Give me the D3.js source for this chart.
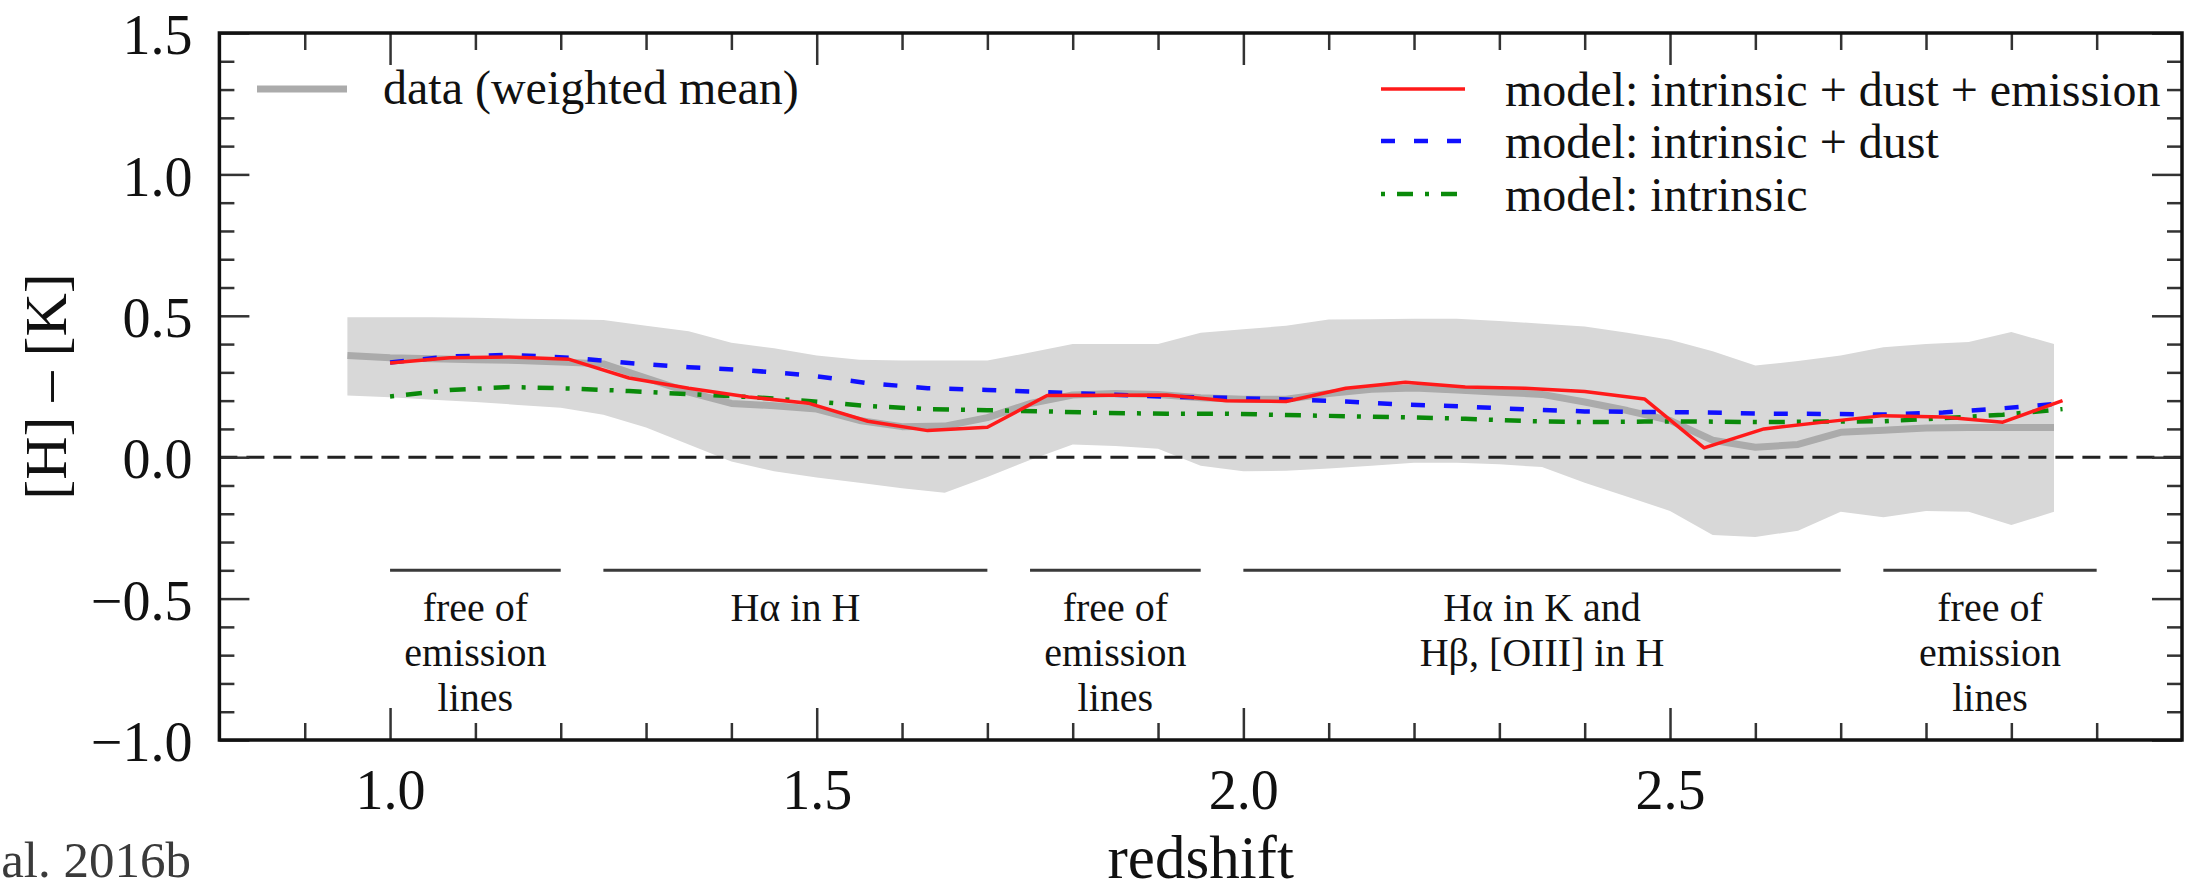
<!DOCTYPE html>
<html>
<head>
<meta charset="utf-8">
<script src="https://cdn.jsdelivr.net/npm/d3@7"></script>
<style>
  html, body { margin: 0; padding: 0; background: #fff; }
  svg { display: block; }
  text { font-family: "Liberation Serif", "Times New Roman", serif; fill: #111; }
</style>
</head>
<body>
<svg id="chart" width="2188" height="892"></svg>
<script>
// Observed [H]-[K] colour: weighted mean and scatter band
const zData = [0.95, 1.00, 1.05, 1.10, 1.15, 1.20, 1.25, 1.30, 1.35, 1.40, 1.45,
               1.50, 1.55, 1.60, 1.65, 1.70, 1.75, 1.80, 1.85, 1.90, 1.95,
               2.00, 2.05, 2.10, 2.15, 2.20, 2.25, 2.30, 2.35, 2.40, 2.45,
               2.50, 2.55, 2.60, 2.65, 2.70, 2.75, 2.80, 2.85, 2.90, 2.95];
const meanHK = [0.360, 0.352, 0.348, 0.345, 0.342, 0.337, 0.330, 0.280, 0.230, 0.190, 0.182,
                0.170, 0.130, 0.108, 0.110, 0.140, 0.190, 0.220, 0.225, 0.222, 0.210,
                0.205, 0.205, 0.225, 0.240, 0.245, 0.238, 0.230, 0.222, 0.195, 0.165,
                0.130, 0.060, 0.035, 0.045, 0.088, 0.095, 0.103, 0.105, 0.105, 0.105];
const bandHigh = [0.495, 0.495, 0.495, 0.493, 0.490, 0.488, 0.485, 0.465, 0.445, 0.405, 0.385,
                  0.360, 0.345, 0.342, 0.342, 0.342, 0.370, 0.400, 0.400, 0.400, 0.440,
                  0.452, 0.465, 0.487, 0.488, 0.490, 0.490, 0.482, 0.472, 0.462, 0.440,
                  0.415, 0.375, 0.324, 0.340, 0.360, 0.389, 0.400, 0.407, 0.443, 0.400];
const bandLow = [0.218, 0.212, 0.203, 0.195, 0.185, 0.175, 0.150, 0.105, 0.045, -0.015, -0.050,
                 -0.072, -0.090, -0.110, -0.126, -0.070, -0.010, 0.045, 0.040, 0.030, -0.030,
                 -0.050, -0.048, -0.040, -0.030, -0.020, -0.020, -0.025, -0.035, -0.090, -0.140,
                 -0.190, -0.275, -0.282, -0.260, -0.193, -0.212, -0.190, -0.193, -0.240, -0.193];

// Model predictions
const zModel = [1.00, 1.07, 1.14, 1.21, 1.28, 1.35, 1.42, 1.49, 1.56, 1.63,
                1.70, 1.77, 1.84, 1.91, 1.98, 2.05, 2.12, 2.19, 2.26, 2.33,
                2.40, 2.47, 2.54, 2.61, 2.68, 2.75, 2.82, 2.89, 2.96];
const modelFull = [0.333, 0.352, 0.354, 0.346, 0.280, 0.244, 0.213, 0.191, 0.127, 0.094,
                   0.106, 0.218, 0.219, 0.220, 0.200, 0.197, 0.244, 0.265, 0.248, 0.244,
                   0.232, 0.206, 0.033, 0.100, 0.124, 0.147, 0.142, 0.124, 0.200];
const modelDust = [0.335, 0.356, 0.362, 0.352, 0.333, 0.318, 0.307, 0.290, 0.262, 0.244,
                   0.238, 0.230, 0.222, 0.214, 0.210, 0.204, 0.197, 0.186, 0.179, 0.169,
                   0.162, 0.160, 0.158, 0.154, 0.153, 0.151, 0.158, 0.173, 0.190];
const modelIntrinsic = [0.215, 0.238, 0.248, 0.243, 0.234, 0.223, 0.213, 0.199, 0.181, 0.170,
                        0.166, 0.162, 0.156, 0.154, 0.154, 0.149, 0.145, 0.141, 0.136, 0.128,
                        0.124, 0.126, 0.126, 0.124, 0.126, 0.127, 0.138, 0.150, 0.170];

// Axis ticks
const xTicks = [1.0, 1.5, 2.0, 2.5];
const yTicks = [-1.0, -0.5, 0.0, 0.5, 1.0, 1.5];

// Redshift windows and their labels
const regionFrom = [1.00, 1.25, 1.75, 2.00, 2.75];
const regionTo   = [1.20, 1.70, 1.95, 2.70, 3.00];
const regionText = [
  ["free of", "emission", "lines"],
  ["H\u03b1 in H"],
  ["free of", "emission", "lines"],
  ["H\u03b1 in K and", "H\u03b2, [OIII] in H"],
  ["free of", "emission", "lines"]
];
const regionLevel = -0.4;

// Legend entries
const legendLeft = ["data (weighted mean)"];
const legendRight = ["model: intrinsic + dust + emission", "model: intrinsic + dust", "model: intrinsic"];

const svg = d3.select("#chart");
const L = 219.4, R = 2182, T = 33, B = 740;
const x = d3.scaleLinear().domain([0.8, 3.1]).range([L, R]);
const y = d3.scaleLinear().domain([-1.0, 1.5]).range([B, T]);

const fmt = d3.format(".1f");
const xMinor = d3.range(9, 31).map(d => d / 10).filter(d => !xTicks.some(t => Math.abs(t - d) < 1e-9));
const yMinor = d3.range(-9, 15).map(d => d / 10).filter(d => !yTicks.some(t => Math.abs(t - d) < 1e-9));

svg.append("defs").append("clipPath").attr("id", "plotClip")
  .append("rect").attr("x", L).attr("y", T).attr("width", R - L).attr("height", B - T);

const plot = svg.append("g").attr("clip-path", "url(#plotClip)");

// scatter band
const rows = zData.map((z, i) => ({ z, m: meanHK[i], lo: bandLow[i], hi: bandHigh[i] }));
plot.append("path").datum(rows)
  .attr("d", d3.area().x(d => x(d.z)).y0(d => y(d.lo)).y1(d => y(d.hi)))
  .attr("fill", "#d8d8d8");

// weighted mean
plot.append("path").datum(rows)
  .attr("d", d3.line().x(d => x(d.z)).y(d => y(d.m)))
  .attr("fill", "none").attr("stroke", "#ababab").attr("stroke-width", 7)
  .attr("stroke-linejoin", "round");

// zero reference
plot.append("line")
  .attr("x1", L).attr("x2", R).attr("y1", y(0)).attr("y2", y(0))
  .attr("stroke", "#222").attr("stroke-width", 3).attr("stroke-dasharray", "18,9");

// models
const modelLine = vals => d3.line().x((d, i) => x(zModel[i])).y(d => y(d))(vals);
plot.append("path").attr("d", modelLine(modelIntrinsic))
  .attr("fill", "none").attr("stroke", "#0a8a0a").attr("stroke-width", 4.5)
  .attr("stroke-dasharray", "4,12,16,12");
plot.append("path").attr("d", modelLine(modelDust))
  .attr("fill", "none").attr("stroke", "#1010ff").attr("stroke-width", 4.5)
  .attr("stroke-dasharray", "14,19");
plot.append("path").attr("d", modelLine(modelFull))
  .attr("fill", "none").attr("stroke", "#ff1a1a").attr("stroke-width", 3.5)
  .attr("stroke-linejoin", "round");

// redshift windows: a bar per window and a multi-line label below it
const regionsG = svg.append("g");
regionFrom.forEach((from, i) => {
  regionsG.append("line")
    .attr("x1", x(from)).attr("x2", x(regionTo[i]))
    .attr("y1", y(regionLevel)).attr("y2", y(regionLevel))
    .attr("stroke", "#3a3a3a").attr("stroke-width", 3);
  const cx = x((from + regionTo[i]) / 2);
  const label = regionsG.append("text")
    .attr("x", cx).attr("y", y(regionLevel) + 51)
    .attr("text-anchor", "middle").attr("font-size", 40);
  regionText[i].forEach((t, j) => {
    label.append("tspan")
      .attr("x", cx).attr("dy", j === 0 ? 0 : 45)
      .text(t);
  });
});

// axes: major and minor ticks, pointing inward on all four sides
const tickStyle = g => {
  g.select(".domain").remove();
  g.selectAll(".tick line").attr("stroke", "#333").attr("stroke-width", 2.5);
  g.selectAll("text").attr("font-size", 56).attr("fill", "#111")
    .attr("font-family", "'Liberation Serif', 'Times New Roman', serif");
};

svg.append("g").attr("transform", `translate(0,${B})`)
  .call(d3.axisBottom(x).tickValues(xMinor).tickSize(-17).tickFormat(""))
  .call(tickStyle);
svg.append("g").attr("transform", `translate(0,${B})`)
  .call(d3.axisBottom(x).tickValues(xTicks).tickSize(-32).tickPadding(29).tickFormat(fmt))
  .call(tickStyle);
svg.append("g").attr("transform", `translate(0,${T})`)
  .call(d3.axisTop(x).tickValues(xMinor).tickSize(-17).tickFormat(""))
  .call(tickStyle);
svg.append("g").attr("transform", `translate(0,${T})`)
  .call(d3.axisTop(x).tickValues(xTicks).tickSize(-32).tickFormat(""))
  .call(tickStyle);

svg.append("g").attr("transform", `translate(${L},0)`)
  .call(d3.axisLeft(y).tickValues(yMinor).tickSize(-15).tickFormat(""))
  .call(tickStyle);
svg.append("g").attr("transform", `translate(${L},0)`)
  .call(d3.axisLeft(y).tickValues(yTicks).tickSize(-30).tickPadding(27).tickFormat(fmt))
  .call(tickStyle)
  .call(g => g.selectAll("text").attr("dy", "0.37em"));
svg.append("g").attr("transform", `translate(${R},0)`)
  .call(d3.axisRight(y).tickValues(yMinor).tickSize(-15).tickFormat(""))
  .call(tickStyle);
svg.append("g").attr("transform", `translate(${R},0)`)
  .call(d3.axisRight(y).tickValues(yTicks).tickSize(-30).tickFormat(""))
  .call(tickStyle);

// frame
svg.append("rect")
  .attr("x", L).attr("y", T).attr("width", R - L).attr("height", B - T)
  .attr("fill", "none").attr("stroke", "#111").attr("stroke-width", 3.5);

// axis titles
svg.append("text")
  .attr("x", (L + R) / 2).attr("y", 878)
  .attr("text-anchor", "middle").attr("font-size", 61)
  .text("redshift");
svg.append("text")
  .attr("transform", `translate(66,${(T + B) / 2}) rotate(-90)`)
  .attr("text-anchor", "middle").attr("font-size", 60)
  .text("[H] \u2013 [K]");

// source note
svg.append("text")
  .attr("x", 191).attr("y", 877)
  .attr("text-anchor", "end").attr("font-size", 51)
  .style("fill", "#3a3a3a")
  .text("al. 2016b");

// legend
const leg = svg.append("g");
leg.append("line").attr("x1", 257).attr("x2", 347).attr("y1", 89).attr("y2", 89)
  .attr("stroke", "#ababab").attr("stroke-width", 7);
leg.append("text").attr("x", 383).attr("y", 104).attr("font-size", 48).text(legendLeft[0]);

const legStyles = [
  { stroke: "#ff1a1a", width: 3.5, dash: null },
  { stroke: "#1010ff", width: 4.5, dash: "14,19" },
  { stroke: "#0a8a0a", width: 4.5, dash: "4,12,16,12" }
];
const legRowY = [106, 158, 211];
legendRight.forEach((label, i) => {
  const ln = leg.append("line")
    .attr("x1", 1381).attr("x2", 1465)
    .attr("y1", legRowY[i] - 17).attr("y2", legRowY[i] - 17)
    .attr("stroke", legStyles[i].stroke).attr("stroke-width", legStyles[i].width);
  if (legStyles[i].dash) ln.attr("stroke-dasharray", legStyles[i].dash);
  leg.append("text").attr("x", 1505).attr("y", legRowY[i]).attr("font-size", 48).text(label);
});
</script>
</body>
</html>
